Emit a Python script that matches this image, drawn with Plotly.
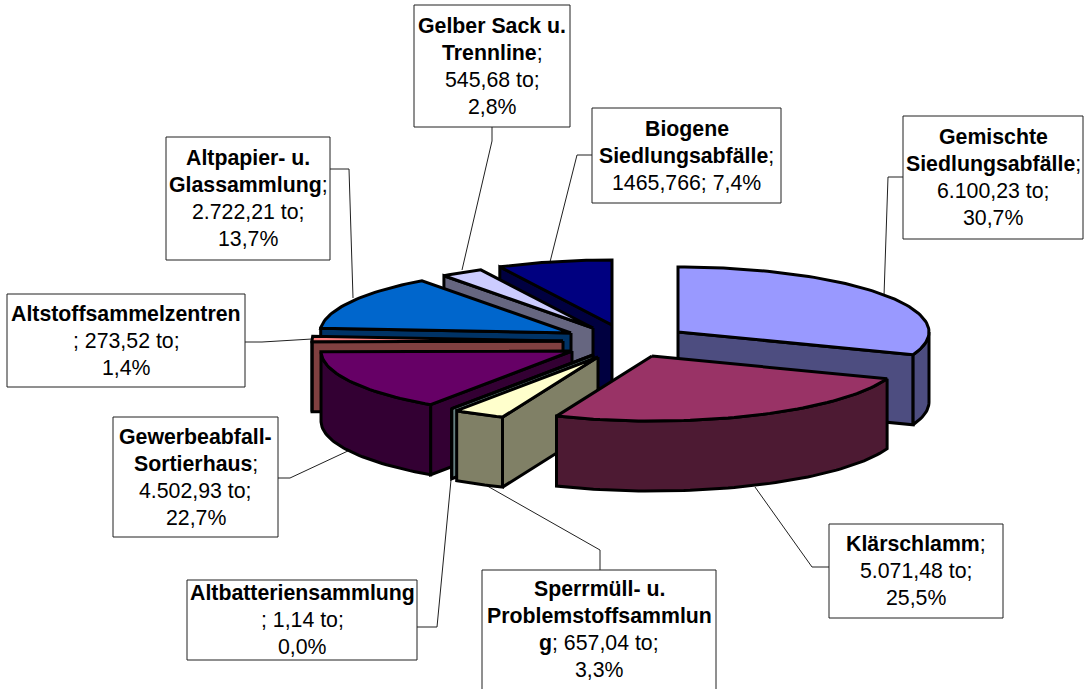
import math
import plotly.graph_objects as go

# ---- data ----
categories = ["Gemischte Siedlungsabfälle", "Klärschlamm", "Sperrmüll- u. Problemstoffsammlung",
              "Altbatteriensammlung", "Gewerbeabfall-Sortierhaus", "Altstoffsammelzentren",
              "Altpapier- u. Glassammlung", "Gelber Sack u. Trennline", "Biogene Siedlungsabfälle"]
# plotted wedge sizes (Gewerbeabfall wedge excludes the Biogene share, as drawn in the picture)
plotted_tonnes = [6100.23, 5071.48, 657.04, 1.14, 3037.164, 273.52, 2722.21, 545.68, 1465.766]
top_colors = ["#9999FF", "#993366", "#FFFFCC", "#CCFFFF", "#660066", "#FF8080", "#0066CC", "#CCCCFF", "#000080"]
side_colors = ["#4D4D80", "#4D1A33", "#808066", "#668080", "#330033", "#804040", "#003366", "#666680", "#000040"]

label_lines = [
    [("Gemischte", ""), ("Siedlungsabfälle", ";"), ("", "6.100,23 to;"), ("", "30,7%")],
    [("Klärschlamm", ";"), ("", "5.071,48 to;"), ("", "25,5%")],
    [("Sperrmüll- u.", ""), ("Problemstoffsammlun", ""), ("g", "; 657,04 to;"), ("", "3,3%")],
    [("Altbatteriensammlung", ""), ("", "; 1,14 to;"), ("", "0,0%")],
    [("Gewerbeabfall-", ""), ("Sortierhaus", ";"), ("", "4.502,93 to;"), ("", "22,7%")],
    [("Altstoffsammelzentren", ""), ("", "; 273,52 to;"), ("", "1,4%")],
    [("Altpapier- u.", ""), ("Glassammlung", ";"), ("", "2.722,21 to;"), ("", "13,7%")],
    [("Gelber Sack u.", ""), ("Trennline", ";"), ("", "545,68 to;"), ("", "2,8%")],
    [("Biogene", ""), ("Siedlungsabfälle", ";"), ("", "1465,766; 7,4%")],
]

# ---- layout / style (axis units equal screen pixels) ----
W, H = 1085, 689
CENTER = (620, 342)
RX, RY, DEPTH = 251, 65, 70
PULL = [(58, -10), (32, 14), (-22, 15), (-27, 13), (-48, 9), (-57, -1), (-49, -9), (-27, -14), (-8, -17)]
DRAW_ORDER = [0, 8, 7, 6, 5, 4, 3, 2, 1]
BOXES = [(903, 116, 1083, 239), (829, 524, 1003, 618), (482, 570, 716, 689), (187, 580, 417, 660),
         (113, 417, 278, 537), (7, 294, 245, 387), (166, 137, 330, 260), (414, 5, 570, 127), (592, 108, 781, 203)]
LEADERS = [
    [(903, 177), (888, 177), (884, 296)],
    [(829, 567), (812, 567), (755, 487)],
    [(600, 570), (600, 550), (482, 483)],
    [(417, 627), (437, 627), (451, 480)],
    [(278, 478), (290, 478), (350, 450)],
    [(245, 342), (262, 342), (312, 339)],
    [(330, 169), (349, 169), (353, 298)],
    [(492, 127), (492, 141), (462, 270)],
    [(592, 155), (577, 155), (550, 262)],
]
LINE_PITCH = 27
FONT = "Liberation Sans, Arial, sans-serif"
FONT_SIZE = 21.3

total = sum(plotted_tonnes)
edges = [0.0]
for v in plotted_tonnes:
    edges.append(edges[-1] + v / total * 360.0)


def rim(ax, ay, deg, drop=0):
    t = math.radians(deg)
    return ax + RX * math.sin(t), ay - RY * math.cos(t) + drop


def arc(ax, ay, a0, a1, drop=0):
    n = max(2, int(abs(a1 - a0) / 1.5) + 2)
    return [rim(ax, ay, a0 + (a1 - a0) * k / (n - 1), drop) for k in range(n)]


def add_poly(fig, pts, color):
    xs = [p[0] for p in pts] + [pts[0][0]]
    ys = [p[1] for p in pts] + [pts[0][1]]
    fig.add_trace(go.Scatter(x=xs, y=ys, mode="lines", fill="toself", fillcolor=color,
                             line=dict(color="black", width=3), hoverinfo="skip", showlegend=False))


def add_cut(fig, ax, ay, deg, color):
    p = rim(ax, ay, deg)
    add_poly(fig, [(ax, ay), p, (p[0], p[1] + DEPTH), (ax, ay + DEPTH)], color)


fig = go.Figure()
for i in DRAW_ORDER:
    a0, a1 = edges[i], edges[i + 1]
    ax, ay = CENTER[0] + PULL[i][0], CENTER[1] + PULL[i][1]
    # cut faces turned towards the viewer
    if math.sin(math.radians(a0)) < 0:
        add_cut(fig, ax, ay, a0, side_colors[i])
    if math.sin(math.radians(a1)) > 0:
        add_cut(fig, ax, ay, a1, side_colors[i])
    # curved outer wall (front half only)
    s0, s1 = max(a0, 90), min(a1, 270)
    if s1 > s0:
        add_poly(fig, arc(ax, ay, s0, s1) + arc(ax, ay, s1, s0, DEPTH), side_colors[i])
    # top face
    add_poly(fig, [(ax, ay)] + arc(ax, ay, a0, a1), top_colors[i])

shapes, annotations = [], []
for path in LEADERS:
    d = "M " + " L ".join(f"{x},{y}" for x, y in path)
    shapes.append(dict(type="path", path=d, xref="x", yref="y", line=dict(color="#202020", width=1), layer="below"))
for box, lines in zip(BOXES, label_lines):
    x0, y0, x1, y1 = box
    # a box reaching the page bottom is cut off there, so its lower border is not seen
    shapes.append(dict(type="rect", x0=x0, y0=y0, x1=x1, y1=y1 + 8 if y1 >= H else y1, xref="x", yref="y",
                       fillcolor="white", line=dict(color="#202020", width=1), layer="above"))
    mid = (y0 + y1) / 2
    for k, (bold, plain) in enumerate(lines):
        text = (f"<b>{bold}</b>" if bold else "") + plain
        annotations.append(dict(x=(x0 + x1) / 2, y=mid + (k - (len(lines) - 1) / 2) * LINE_PITCH,
                                xref="x", yref="y", text=text, showarrow=False, xanchor="center", yanchor="middle",
                                font=dict(family=FONT, size=FONT_SIZE, color="black")))

fig.update_layout(width=W, height=H, margin=dict(l=0, r=0, t=0, b=0), paper_bgcolor="white", plot_bgcolor="white",
                  showlegend=False, shapes=shapes, annotations=annotations,
                  xaxis=dict(range=[0, W], visible=False, fixedrange=True),
                  yaxis=dict(range=[H, 0], visible=False, fixedrange=True))
fig.write_html("out.html", config=dict(displayModeBar=False, staticPlot=True),
               post_script="document.body.style.margin='0';")
